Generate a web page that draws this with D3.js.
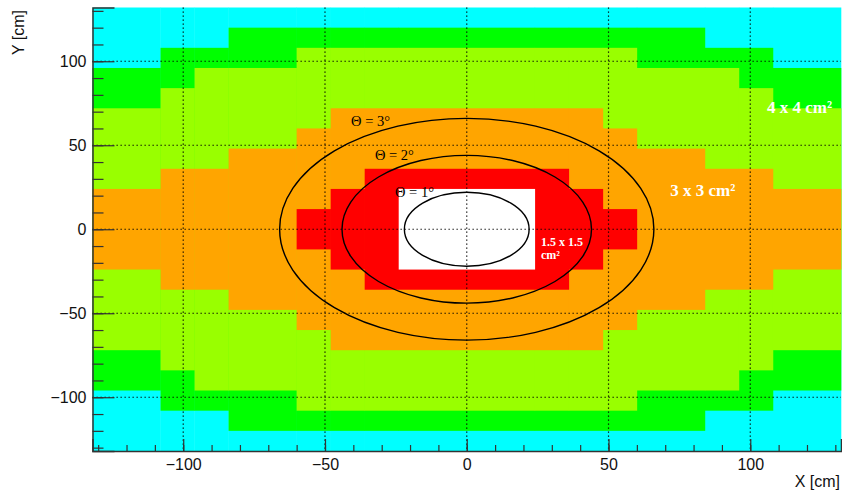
<!DOCTYPE html>
<html>
<head>
<meta charset="utf-8">
<script src="https://cdn.jsdelivr.net/npm/d3@7"></script>
<style>
  body { margin: 0; background: #fff; }
</style>
</head>
<body>
<div id="chart"></div>
<script>
// |x| bands (cm), one entry per column group of the quadrant
var bandEdges = [0, 24, 36, 48, 60, 84, 96, 108, 132];
// cell zones, from the outer ring to the beam hole
var zones = ["cyan", "green", "lightgreen", "orange", "red", "hole"];
var zoneColors = ["#00ffff", "#00ff00", "#99ff00", "#ffa500", "#ff0000", "#ffffff"];
// upper |y| (cm) of each zone in each band (same order as zones)
var zoneTop = [
  [132, 120, 108, 72, 36, 24],
  [132, 120, 108, 72, 36, 0],
  [132, 120, 108, 72, 24, 0],
  [132, 120, 108, 60, 12, 0],
  [132, 120, 96, 48, 0, 0],
  [132, 108, 96, 36, 0, 0],
  [132, 108, 84, 36, 0, 0],
  [132, 96, 72, 24, 0, 0]
];
var thetaRadii = [22, 44, 66];
var thetaLabels = ["\u0398 = 1\u00b0", "\u0398 = 2\u00b0", "\u0398 = 3\u00b0"];
var gridTicks = [-100, -50, 0, 50, 100];

var W = 842, H = 491;
var svg = d3.select("#chart").append("svg")
  .attr("width", W).attr("height", H);

var x = d3.scaleLinear().domain([-132, 132]).range([92.5, 841]);
var y = d3.scaleLinear().domain([-132, 132]).range([451, 7.5]);

// cells
var g = svg.append("g");
zones.forEach(function(z, zi) {
  for (var b = 0; b < bandEdges.length - 1; b++) {
    var top = zoneTop[b][zi];
    if (top <= 0) continue;
    [-1, 1].forEach(function(s) {
      var x0 = s * bandEdges[b], x1 = s * bandEdges[b + 1];
      g.append("rect")
        .attr("x", x(Math.min(x0, x1)))
        .attr("width", Math.abs(x(x1) - x(x0)) + 0.3)
        .attr("y", y(top))
        .attr("height", y(-top) - y(top))
        .attr("fill", zoneColors[zi]);
    });
  }
});

// dotted grid
var grid = svg.append("g")
  .attr("stroke", "#000")
  .attr("stroke-width", 1.2)
  .attr("stroke-dasharray", "1.3,2.7");
gridTicks.forEach(function(t) {
  grid.append("line")
    .attr("x1", x(t)).attr("x2", x(t))
    .attr("y1", y(132)).attr("y2", y(-132));
  grid.append("line")
    .attr("x1", x(-132)).attr("x2", x(132))
    .attr("y1", y(t)).attr("y2", y(t));
});

// theta circles
svg.append("g").selectAll("ellipse")
  .data(thetaRadii).enter().append("ellipse")
  .attr("cx", x(0)).attr("cy", y(0))
  .attr("rx", function(r) { return x(r) - x(0); })
  .attr("ry", function(r) { return y(0) - y(r); })
  .attr("fill", "none")
  .attr("stroke", "#000")
  .attr("stroke-width", 1.4);

// labels
var thetaPos = [[-25.3, 19.2], [-32.4, 41.5], [-40.8, 61.5]];
thetaLabels.forEach(function(t, i) {
  svg.append("text")
    .attr("x", x(thetaPos[i][0]))
    .attr("y", y(thetaPos[i][1]))
    .attr("font-family", "Liberation Serif")
    .attr("font-size", "14.5px")
    .attr("fill", "#000")
    .text(t);
});

function cellLabel(txt, cx, cy, size) {
  svg.append("text")
    .attr("x", x(cx)).attr("y", y(cy))
    .attr("font-family", "Liberation Serif")
    .attr("font-weight", "700")
    .attr("font-size", size)
    .attr("fill", "#fff")
    .text(txt);
}
cellLabel("4 x 4 cm\u00b2", 105.9, 69.2, "17px");
cellLabel("3 x 3 cm\u00b2", 71.8, 19.8, "17px");
cellLabel("1.5 x 1.5", 26.2, -9.7, "12px");
cellLabel("cm\u00b2", 26.2, -17.9, "12px");

// axes
var xAxis = svg.append("g").attr("transform", "translate(0," + y(-132) + ")");
xAxis.call(d3.axisBottom(x).tickValues(d3.range(-130, 131, 10)).tickFormat("").tickSize(-6));
xAxis.append("g").call(d3.axisBottom(x).tickValues(gridTicks).tickSize(-12).tickPadding(8)
  .tickFormat(function(d) { return d < 0 ? "\u2212" + Math.abs(d) : d; }));

var yAxis = svg.append("g").attr("transform", "translate(" + x(-132) + ",0)");
yAxis.call(d3.axisLeft(y).tickValues(d3.range(-130, 131, 10)).tickFormat("").tickSize(-11));
yAxis.append("g").call(d3.axisLeft(y).tickValues(gridTicks).tickSize(-22).tickPadding(6)
  .tickFormat(function(d) { return d < 0 ? "\u2212" + Math.abs(d) : d; }));

svg.selectAll(".domain").attr("stroke", "#333").attr("stroke-width", 1.5);
svg.selectAll(".tick line").attr("stroke", "#333").attr("stroke-width", 1.2);
svg.selectAll(".tick text")
  .attr("font-family", "Liberation Sans")
  .attr("font-size", "16px")
  .attr("fill", "#111");
// keep only one domain line per axis
xAxis.select("g .domain").remove();
yAxis.select("g .domain").remove();

svg.append("text")
  .attr("x", 840).attr("y", 487)
  .attr("text-anchor", "end")
  .attr("font-family", "Liberation Sans")
  .attr("font-size", "16px")
  .attr("fill", "#111")
  .text("X [cm]");

svg.append("text")
  .attr("transform", "translate(24,10) rotate(-90)")
  .attr("text-anchor", "end")
  .attr("font-family", "Liberation Sans")
  .attr("font-size", "16px")
  .attr("fill", "#111")
  .text("Y [cm]");
</script>
</body>
</html>
